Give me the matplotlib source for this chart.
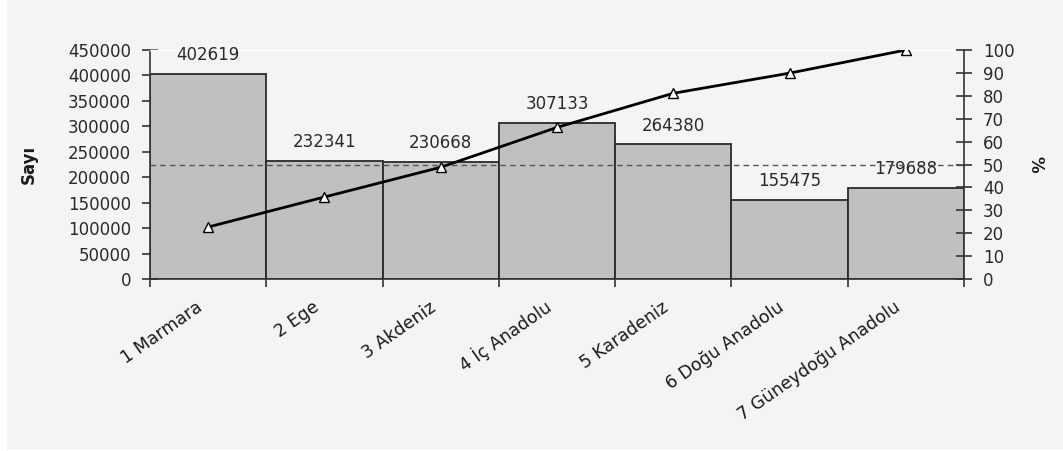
import numpy as np
import matplotlib
matplotlib.use("Agg")
import matplotlib.pyplot as plt
from matplotlib.patches import Rectangle
from matplotlib.transforms import ScaledTranslation

categories = ["1 Marmara", "2 Ege", "3 Akdeniz", "4 İç Anadolu", "5 Karadeniz",
              "6 Doğu Anadolu", "7 Güneydoğu Anadolu"]
counts = [402619, 232341, 230668, 307133, 264380, 155475, 179688]
cum_pct = [22.7, 35.8, 48.8, 66.2, 81.1, 89.9, 100.0]
ref_pct = 50
left_ticks = [0, 50000, 100000, 150000, 200000, 250000, 300000, 350000, 400000, 450000]
right_ticks = [0, 10, 20, 30, 40, 50, 60, 70, 80, 90, 100]

plt.rcParams['font.family'] = ['DejaVu Sans']
FS = 12
TXT = '#2a2a2a'
BG = '#f4f4f4'

fig = plt.figure(figsize=(10.63, 4.51), dpi=100, facecolor='white')
fig.patches.append(Rectangle((7 / 1063, 1 / 451), 1, 1, transform=fig.transFigure,
                             facecolor=BG, edgecolor='none', zorder=-10))

ax = fig.add_axes([150 / 1063, 1 - 279 / 451, (964 - 150) / 1063, (279 - 50) / 451])
ax.set_facecolor(BG)
x = np.arange(len(categories))
ax.bar(x, counts, width=1.0, color='#c0c0c0', edgecolor='#2a2a2a', linewidth=1.3, zorder=2)
for xi, v in zip(x, counts):
    ax.annotate(str(v), (xi, v), xytext=(0, 7), textcoords='offset points',
                ha='center', va='bottom', fontsize=FS, color=TXT, zorder=5)

ax.set_xlim(-0.5, len(categories) - 0.5)
ax.set_ylim(0, 450000)
ax.set_yticks(left_ticks)
ax.set_yticklabels([str(t) for t in left_ticks], fontsize=FS, color=TXT)
ax.tick_params(axis='y', direction='inout', length=11, width=1.2, color='#333333', pad=8)
ax.set_xticks(x)
ax.set_xticklabels(categories, fontsize=12.5, color='#1a1a1a', rotation=35,
                   ha='right', va='center', rotation_mode='anchor')
ax.tick_params(axis='x', which='major', length=0, pad=19)
off = ScaledTranslation(-7 / 100, 0, fig.dpi_scale_trans)
for lab in ax.get_xticklabels():
    lab.set_transform(lab.get_transform() + off)
ax.set_xticks(np.arange(-0.5, len(categories)), minor=True)
ax.tick_params(axis='x', which='minor', direction='out', length=6, width=1.2, color='#333333')
for s in ['left', 'bottom']:
    ax.spines[s].set_color('#333333')
    ax.spines[s].set_linewidth(1.2)
ax.spines['top'].set_color('white')
ax.spines['top'].set_linewidth(1.0)
ax.spines['right'].set_visible(False)
ax.set_ylabel('Sayı', fontsize=FS, fontweight='bold', color='#1a1a1a', labelpad=22)

ax2 = ax.twinx()
ax2.set_ylim(0, 100)
ax2.set_yticks(right_ticks)
ax2.set_yticklabels([str(t) for t in right_ticks], fontsize=FS, color=TXT)
ax2.tick_params(axis='y', direction='inout', length=11, width=1.2, color='#333333', pad=8)
ax2.spines['right'].set_color('#333333')
ax2.spines['right'].set_linewidth(1.2)
for s in ['left', 'top', 'bottom']:
    ax2.spines[s].set_visible(False)
ax2.axhline(ref_pct, color='#555555', linestyle=(0, (4, 3)), linewidth=1.0, zorder=3)
ax2.plot(x, cum_pct, color='black', linewidth=2.0, marker='^', markersize=7,
         markerfacecolor='white', markeredgecolor='black', markeredgewidth=1.0, zorder=4)
ax2.set_ylabel('%', fontsize=FS, fontweight='bold', color='#1a1a1a', rotation=270, labelpad=22)

fig.savefig('out.png', dpi=100, facecolor='white')
